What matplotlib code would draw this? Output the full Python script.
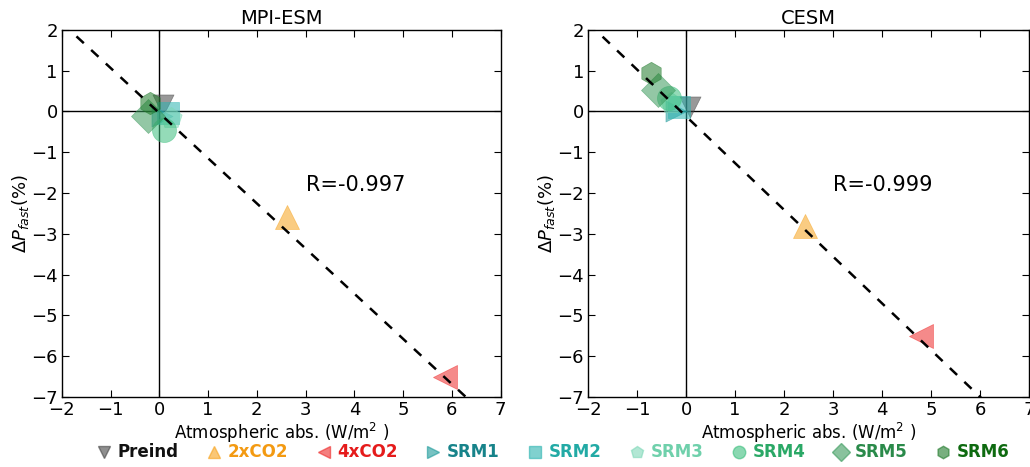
import matplotlib
matplotlib.use("Agg")
import matplotlib.pyplot as plt
import numpy as np

labels = ["Preind", "2xCO2", "4xCO2", "SRM1", "SRM2", "SRM3", "SRM4", "SRM5", "SRM6"]
markers = ["v", "^", "<", ">", "s", "p", "o", "D", "h"]
marker_colors = ["#444444", "#f7a21b", "#ee2a2a", "#1c9a9a", "#2bb3b0", "#7fd8b8", "#3cbf7e", "#3a9a5c", "#1f7a2a"]
text_colors = ["#111111", "#f39a12", "#e51b1b", "#17838a", "#22aaa5", "#6fd0ab", "#2aa866", "#2a8a4a", "#0e6a10"]

mpi_x = [0.08, 2.62, 5.85, 0.05, 0.17, 0.24, 0.10, -0.24, -0.20]
mpi_y = [0.15, -2.6, -6.5, -0.10, -0.04, -0.16, -0.45, -0.12, 0.20]
cesm_x = [0.08, 2.42, 4.80, -0.20, -0.14, -0.30, -0.34, -0.58, -0.72]
cesm_y = [0.10, -2.8, -5.5, 0.00, 0.10, 0.20, 0.33, 0.53, 0.94]

fit_mpi = (-1.107, -0.04)
fit_cesm = (-1.146, -0.12)
r_mpi = "R=-0.997"
r_cesm = "R=-0.999"

sizes = [230, 300, 300, 230, 260, 260, 300, 300, 260]

fig = plt.figure(figsize=(10.3, 4.67), dpi=100)
ax1 = fig.add_axes([0.060, 0.150, 0.426, 0.786])
ax2 = fig.add_axes([0.571, 0.150, 0.428, 0.786])

def draw(ax, xs, ys, fit, rtxt, title, rpos):
    ax.axhline(0, color="k", lw=1, zorder=1)
    ax.axvline(0, color="k", lw=1, zorder=1)
    xx = np.linspace(-2, 7, 50)
    ax.plot(xx, fit[0] * xx + fit[1], "k--", lw=1.8, dashes=(4, 4), zorder=5)
    for i in range(len(xs)):
        ax.scatter([xs[i]], [ys[i]], marker=markers[i], s=sizes[i], c=marker_colors[i],
                   alpha=0.55, edgecolors=marker_colors[i], linewidths=0.5, zorder=3)
    ax.set_xlim(-2, 7)
    ax.set_ylim(-7, 2)
    ax.set_xticks(range(-2, 8))
    ax.set_yticks(range(-7, 3))
    ax.set_xticklabels(["\u22122", "\u22121", "0", "1", "2", "3", "4", "5", "6", "7"])
    ax.set_yticklabels(["\u22127", "\u22126", "\u22125", "\u22124", "\u22123", "\u22122", "\u22121", "0", "1", "2"])
    ax.tick_params(direction="in", top=True, right=True, labelsize=13, length=5, pad=3)
    ax.set_title(title, fontsize=14, pad=4)
    ax.set_xlabel("Atmospheric abs. (W/m$^2$ )", fontsize=12, labelpad=1)
    ax.set_ylabel("$\\Delta P_{fast}$(%)", fontsize=13, labelpad=0)
    ax.text(rpos[0], rpos[1], rtxt, fontsize=15)
    for s in ax.spines.values():
        s.set_linewidth(1)

draw(ax1, mpi_x, mpi_y, fit_mpi, r_mpi, "MPI-ESM", (3.0, -1.95))
draw(ax2, cesm_x, cesm_y, fit_cesm, r_cesm, "CESM", (3.0, -1.95))

handles = [plt.Line2D([], [], ls="none", marker=markers[i], ms=9, color=marker_colors[i],
                      alpha=0.6, mec=marker_colors[i]) for i in range(len(labels))]
leg = fig.legend(handles, labels, loc="lower center", bbox_to_anchor=(0.537, -0.02), ncol=9,
                 frameon=False, handlelength=0.8, handletextpad=0.4, columnspacing=1.75,
                 prop={"weight": "bold", "size": 12})
for t, c in zip(leg.get_texts(), text_colors):
    t.set_color(c)

fig.savefig("out.png", dpi=100)
